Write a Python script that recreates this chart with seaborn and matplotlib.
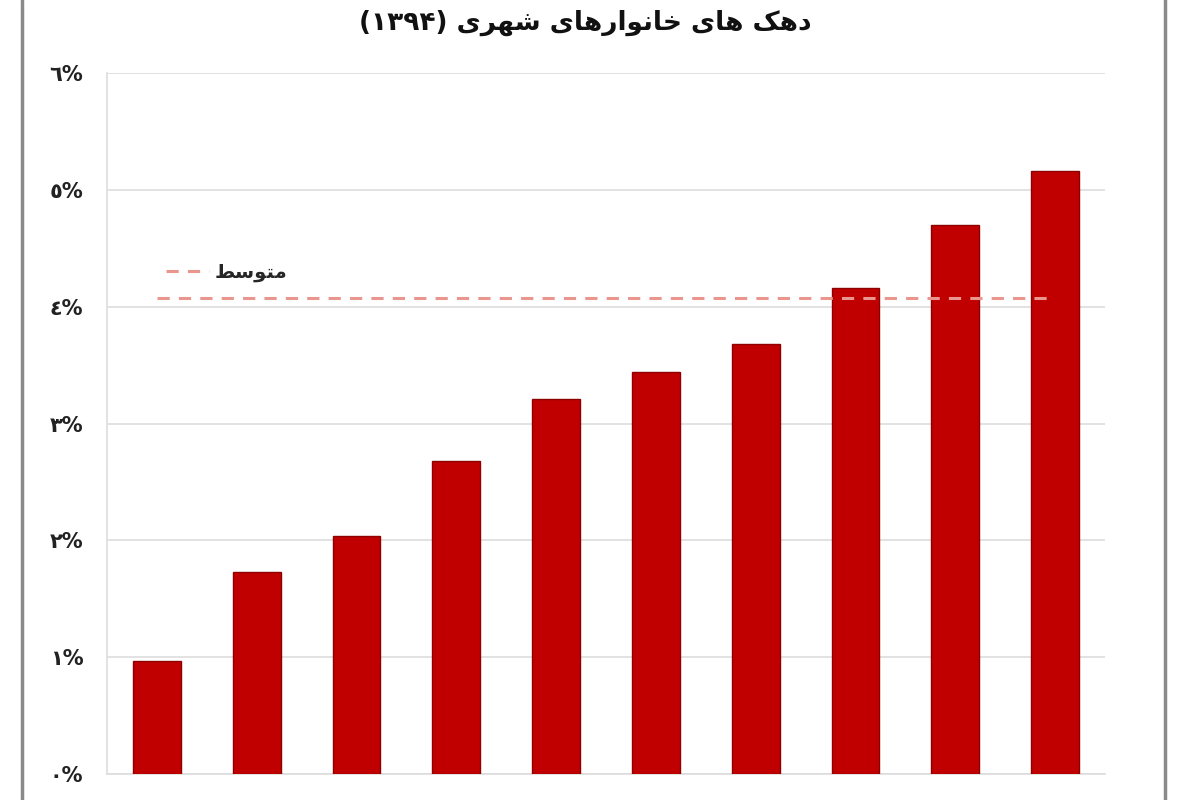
import matplotlib
matplotlib.use("Agg")
import matplotlib.pyplot as plt
from matplotlib.lines import Line2D
import seaborn as sns
import pandas as pd

# ---------------- data ----------------
deciles = ["دهک ۱", "دهک ۲", "دهک ۳", "دهک ۴", "دهک ۵",
           "دهک ۶", "دهک ۷", "دهک ۸", "دهک ۹", "دهک ۱۰"]
shares = [0.97, 1.73, 2.04, 2.68, 3.21, 3.44, 3.68, 4.16, 4.70, 5.16]
average_value = 4.07
y_ticks = [0, 1, 2, 3, 4, 5, 6]
y_tick_labels = ["٠%", "١%", "٢%", "٣%", "٤%", "٥%", "٦%"]
title_text = "دهک های خانوارهای شهری (۱۳۹۴)"
legend_text = "متوسط"

# ------------- minimal Persian shaping for display -------------
FORMS = {
    'ا': ('\uFE8D', '\uFE8E', None, None),
    'د': ('\uFEA9', '\uFEAA', None, None),
    'ر': ('\uFEAD', '\uFEAE', None, None),
    'و': ('\uFEED', '\uFEEE', None, None),
    'ه': ('\uFEE9', '\uFEEA', '\uFEEB', '\uFEEC'),
    'خ': ('\uFEA5', '\uFEA6', '\uFEA7', '\uFEA8'),
    'ن': ('\uFEE5', '\uFEE6', '\uFEE7', '\uFEE8'),
    'ش': ('\uFEB5', '\uFEB6', '\uFEB7', '\uFEB8'),
    'م': ('\uFEE1', '\uFEE2', '\uFEE3', '\uFEE4'),
    'ت': ('\uFE95', '\uFE96', '\uFE97', '\uFE98'),
    'س': ('\uFEB1', '\uFEB2', '\uFEB3', '\uFEB4'),
    'ط': ('\uFEC1', '\uFEC2', '\uFEC3', '\uFEC4'),
    'ک': ('\uFB8E', '\uFB8F', '\uFB90', '\uFB91'),
    'ی': ('\uFBFC', '\uFBFD', '\uFBFE', '\uFBFF'),
}


def shape(text):
    out = []
    n = len(text)
    for i, c in enumerate(text):
        if c not in FORMS:
            out.append(c)
            continue
        prev = text[i - 1] if i > 0 else ''
        nxt = text[i + 1] if i < n - 1 else ''
        pj = prev in FORMS and FORMS[prev][2] is not None
        nj = FORMS[c][2] is not None and nxt in FORMS
        iso, fin, ini, med = FORMS[c]
        if pj and nj:
            out.append(med)
        elif pj:
            out.append(fin)
        elif nj:
            out.append(ini)
        else:
            out.append(iso)
    s = ''.join(out)[::-1]
    s = s.translate(str.maketrans({'(': ')', ')': '('}))
    # restore left-to-right order of digit runs
    res, run = [], []
    for ch in s:
        if ch.isdigit():
            run.append(ch)
        else:
            if run:
                res.extend(run[::-1])
                run = []
            res.append(ch)
    if run:
        res.extend(run[::-1])
    return ''.join(res)


# ---------------- figure ----------------
sns.set_style("white")
plt.rcParams['font.family'] = ['DejaVu Sans']

fig = plt.figure(figsize=(12, 8), dpi=100)
ax = fig.add_axes([107 / 1200, 1 - 774 / 800, 998 / 1200, (774 - 73) / 800])

df = pd.DataFrame({"decile": deciles, "share": shares})
sns.barplot(data=df, x="decile", y="share", order=deciles, color="#C00000",
            saturation=1, width=0.48, edgecolor="#8E0000", linewidth=1.0,
            ax=ax, zorder=3)

positions = list(range(len(deciles)))
avg_line, = ax.plot([positions[0], positions[-1]], [average_value, average_value],
                    linestyle=(0, (4, 3)), color="#E8968E", linewidth=2.2,
                    zorder=4, label=shape(legend_text))

ax.set_ylim(y_ticks[0], y_ticks[-1])
ax.set_xlim(-0.5, len(deciles) - 0.5)
ax.set_yticks(y_ticks)
ax.set_yticklabels(y_tick_labels, fontsize=15, fontweight="bold", color="#222222")
ax.set_xticks(positions)
ax.set_xticklabels([])
ax.tick_params(axis="x", length=0)
ax.tick_params(axis="y", length=3, color="#dddddd", pad=14)
ax.set_xlabel("")
ax.set_ylabel("")
ax.grid(axis="y", color="#dddddd", linewidth=1.2, zorder=0)
ax.set_axisbelow(True)
for side in ["top", "right"]:
    ax.spines[side].set_visible(False)
for side in ["left", "bottom"]:
    ax.spines[side].set_color("#dddddd")
    ax.spines[side].set_linewidth(1.2)

leg = ax.legend(handles=[avg_line], loc="center left",
                bbox_to_anchor=(0.042, 0.716), frameon=False,
                prop={"size": 14, "weight": "bold"}, handlelength=2.2,
                handletextpad=0.3)

fig.text(0.488, 0.972, shape(title_text), ha="center", va="center",
         fontsize=19, fontweight="bold", color="#111111")

# outer frame lines
fig.add_artist(Line2D([22 / 1200, 22 / 1200], [0, 1], color="#8a8a8a", linewidth=2.5))
fig.add_artist(Line2D([1165 / 1200, 1165 / 1200], [0, 1], color="#8a8a8a", linewidth=2.5))

fig.savefig("out.png", dpi=100, facecolor="white")
